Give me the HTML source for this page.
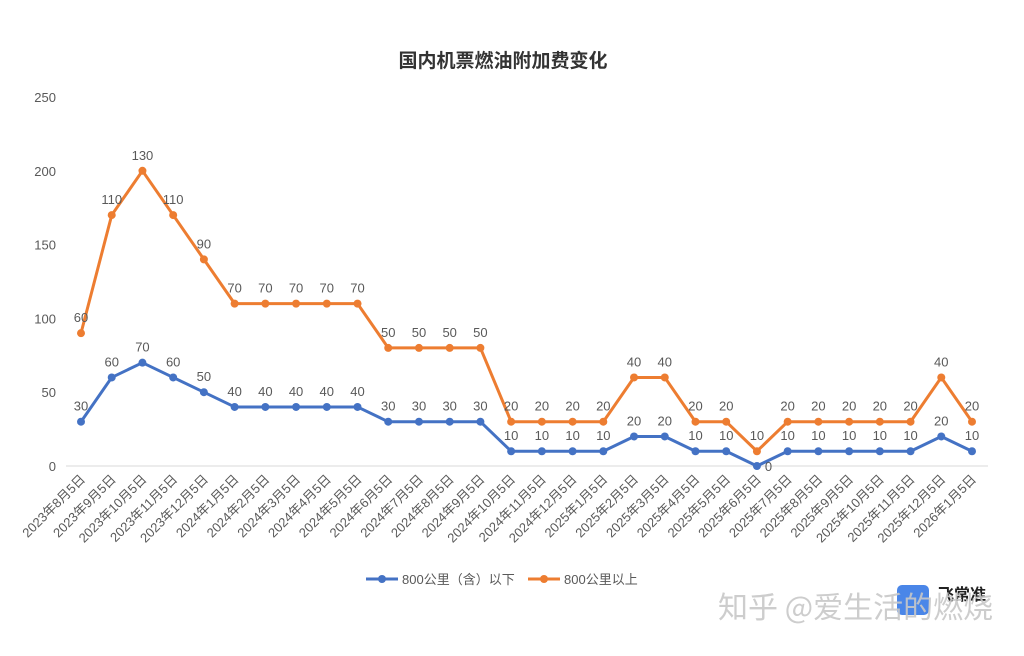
<!DOCTYPE html>
<html><head><meta charset="utf-8"><style>
body{margin:0;background:#fff;width:1024px;height:651px;overflow:hidden;font-family:"Liberation Sans","Noto Sans CJK SC",sans-serif}
</style></head><body>
<svg id="c" width="1024" height="651" xmlns="http://www.w3.org/2000/svg">
<text x="503" y="67" text-anchor="middle" font-size="19" font-weight="bold" fill="#333" font-family="Liberation Sans, Noto Sans CJK SC, sans-serif">国内机票燃油附加费变化</text>
<g id="g"></g>
<g>
<line x1="366" y1="579" x2="398" y2="579" stroke="#4472C4" stroke-width="3"/><circle cx="382" cy="579" r="4" fill="#4472C4"/>
<text x="402" y="584" font-size="13" fill="#595959" font-family="Liberation Sans, Noto Sans CJK SC, sans-serif">800公里（含）以下</text>
<line x1="528" y1="579" x2="560" y2="579" stroke="#ED7D31" stroke-width="3"/><circle cx="544" cy="579" r="4" fill="#ED7D31"/>
<text x="564" y="584" font-size="13" fill="#595959" font-family="Liberation Sans, Noto Sans CJK SC, sans-serif">800公里以上</text>
</g>
<rect x="897" y="585" width="32" height="30" rx="5" fill="#4a86e8"/>
<text x="938" y="600" font-size="16" font-weight="bold" fill="#222" font-family="Noto Sans CJK SC, sans-serif">飞常准</text>
<text x="718" y="618" font-size="30" fill="#c8c8c8" fill-opacity="0.9" font-family="Noto Sans CJK SC, sans-serif">知乎 @爱生活的燃烧</text>
</svg>
<script>
const categories=["2023年8月5日","2023年9月5日","2023年10月5日","2023年11月5日","2023年12月5日","2024年1月5日","2024年2月5日","2024年3月5日","2024年4月5日","2024年5月5日","2024年6月5日","2024年7月5日","2024年8月5日","2024年9月5日","2024年10月5日","2024年11月5日","2024年12月5日","2025年1月5日","2025年2月5日","2025年3月5日","2025年4月5日","2025年5月5日","2025年6月5日","2025年7月5日","2025年8月5日","2025年9月5日","2025年10月5日","2025年11月5日","2025年12月5日","2026年1月5日"];
const under800=[30,60,70,60,50,40,40,40,40,40,30,30,30,30,10,10,10,10,20,20,10,10,0,10,10,10,10,10,20,10];
const over800=[60,110,130,110,90,70,70,70,70,70,50,50,50,50,20,20,20,20,40,40,20,20,10,20,20,20,20,20,40,20];
const yTicks=[0,50,100,150,200,250];
const NS="http://www.w3.org/2000/svg";
const g=document.getElementById('g');
const x0=81,x1=972,yb=466,yt=97,ymax=250;
const X=i=>x0+(x1-x0)*i/(categories.length-1);
const Y=v=>yb-(yb-yt)*v/ymax;
function mk(t,a,txt){const e=document.createElementNS(NS,t);for(const k in a)e.setAttribute(k,a[k]);if(txt!==undefined)e.textContent=txt;g.appendChild(e);return e;}
const F="Liberation Sans, Noto Sans CJK SC, sans-serif";
let gl=mk('line',{x1:66,x2:988,y1:Y(0),y2:Y(0),stroke:'#d9d9d9','stroke-width':1});


yTicks.forEach(v=>{const t=mk('text',{x:56,y:Y(v)+5,'text-anchor':'end','font-size':13,fill:'#595959','font-family':F},v);

});
categories.forEach((c,i)=>{const t=mk('text',{x:0,y:0,'text-anchor':'end','font-size':13,fill:'#595959','font-family':F,transform:`translate(${X(i)+5},${yb+14}) rotate(-45)`},c);

});
const stacked=over800.map((v,i)=>v+under800[i]);
function series(vals,labels,color,name){
 const p=mk('polyline',{points:vals.map((v,i)=>X(i)+','+Y(v)).join(' '),fill:'none',stroke:color,'stroke-width':3,'stroke-linejoin':'round'});
 
 
 vals.forEach((v,i)=>{const c=mk('circle',{cx:X(i),cy:Y(v),r:4,fill:color});
 
 
 const zero=labels[i]===0;
 const t=mk('text',{x:zero?X(i)+8:X(i),y:zero?Y(v)+5:Y(v)-11,'text-anchor':zero?'start':'middle','font-size':13,fill:'#595959','font-family':F},labels[i]);
 
 });
}
series(stacked,over800,'#ED7D31','over-800');
series(under800,under800,'#4472C4','under-800');
</script>
</body></html>
